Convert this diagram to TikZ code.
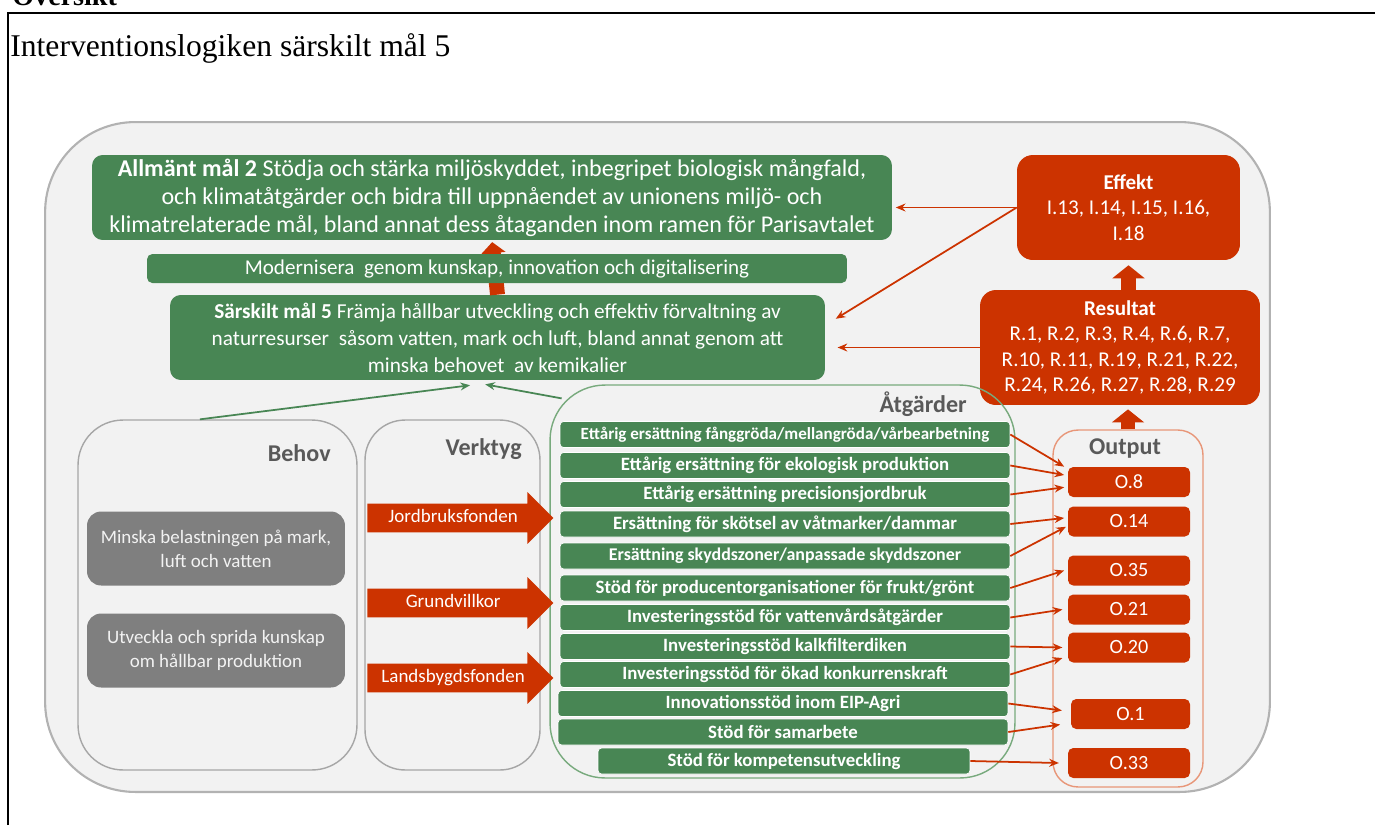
\documentclass[tikz,border=0pt]{standalone}
\usepackage{fontspec}
\setmainfont{Carlito}
\newfontfamily\titlefont{Liberation Serif}
\usetikzlibrary{arrows.meta, shapes.arrows}

\definecolor{sgreen}{RGB}{72,134,84}
\definecolor{sred}{RGB}{204,51,0}
\definecolor{sgray}{RGB}{127,127,127}
\definecolor{panelgray}{RGB}{242,242,242}
\definecolor{hdrgray}{RGB}{89,89,89}
\definecolor{lgreen}{RGB}{120,170,125}
\definecolor{lred}{RGB}{232,150,120}

\begin{document}
\begin{tikzpicture}[x=0.02cm, y=-0.02cm, >={Stealth[length=5.5pt,width=4.5pt]},
    goal/.style={fill=sgreen, text=white, rounded corners=6pt, align=center, inner sep=0pt},
    ind/.style={fill=sred, text=white, rounded corners=9pt, align=center, inner sep=0pt, font=\fontsize{12}{14.4}\selectfont},
    act/.style={fill=sgreen, draw=white, line width=0.4pt, text=white, rounded corners=2pt, inner sep=0pt, minimum width=9cm, minimum height=0.52cm, font=\bfseries\fontsize{10.7}{12}\selectfont},
    outbox/.style={fill=sred, text=white, rounded corners=3pt, inner sep=0pt, minimum width=2.44cm, minimum height=0.6cm, font=\fontsize{11.5}{13}\selectfont},
    need/.style={fill=sgray, text=panelgray, rounded corners=8pt, align=center, inner sep=0pt, minimum width=5.16cm, minimum height=1.48cm, font=\fontsize{10.8}{13.7}\selectfont},
    group/.style={draw=gray!70, line width=0.8pt, rounded corners=0.9cm, inner sep=0pt},
    hdr/.style={text=hdrgray, inner sep=0pt, font=\bfseries\fontsize{13.7}{16}\selectfont},
    fund/.style={single arrow, fill=sred, text=white, anchor=tail, single arrow head extend=6.5pt, minimum height=3.72cm, text height=7pt, text depth=2pt, inner ysep=3.5pt, inner xsep=2pt, font=\fontsize{10.8}{12}\selectfont},
    bigarrow/.style={color=sred, line width=8.5pt, -{Triangle[length=7.4pt,width=18pt]}},
    rlink/.style={->, color=sred, line width=1pt},
    glink/.style={->, color=sgreen, line width=1pt}]

\useasboundingbox (0,0) rectangle (1375,825);
\clip (0,0) rectangle (1375,825);

\node[anchor=base west, inner sep=0pt, font=\titlefont\bfseries\fontsize{16}{18}\selectfont] (oversikt) at (12,5) {Översikt};
\draw[line width=1.1pt] (8,825) -- (8,13) -- (1375,13);
\node[anchor=base west, inner sep=0pt, font=\titlefont\fontsize{18}{22}\selectfont] (title) at (10,56) {Interventionslogiken särskilt mål 5};

\node[draw=gray!60, line width=1.2pt, fill=panelgray, rounded corners=1.8cm, minimum width=24.5cm, minimum height=13.4cm] (panel) at (657.5,457) {};

\node[goal, minimum width=16cm, minimum height=1.7cm, font=\fontsize{13.7}{16}\selectfont] (allm) at (492,197.5) {\textbf{Allmänt mål 2} Stödja och stärka miljöskyddet, inbegripet biologisk mångfald,\\ och klimatåtgärder och bidra till uppnåendet av unionens miljö- och\\ klimatrelaterade mål, bland annat dess åtaganden inom ramen för Parisavtalet};
\node[goal, minimum width=13.1cm, minimum height=1.7cm, font=\fontsize{12.1}{15.4}\selectfont] (sars) at (497.5,337.5) {\textbf{Särskilt mål 5} Främja hållbar utveckling och effektiv förvaltning av\\ naturresurser~ såsom vatten, mark och luft, bland annat genom att\\ minska behovet~ av kemikalier};
\node[ind, minimum width=4.46cm, minimum height=2.1cm] (effekt) at (1128.5,207.5) {\textbf{Effekt}\\ I.13, I.14, I.15, I.16,\\ I.18};
\node[ind, minimum width=5.6cm, minimum height=2.3cm] (result) at (1120,347.5) {\textbf{Resultat}\\ R.1, R.2, R.3, R.4, R.6, R.7,\\ R.10, R.11, R.19, R.21, R.22,\\ R.24, R.26, R.27, R.28, R.29};

\path[bigarrow, -{Triangle[length=6.3pt,width=13.7pt]}] (sars.north) edge[shorten >=1pt] (allm.south);
\node[goal, rounded corners=3pt, minimum width=14cm, minimum height=0.58cm, font=\fontsize{12}{13}\selectfont] (modern) at (497,268.5) {Modernisera~ genom kunskap, innovation och digitalisering};

\node[group, minimum width=5.58cm, minimum height=7cm] (behov) at (217.5,595) {};
\node[group, rounded corners=0.8cm, minimum width=3.5cm, minimum height=7cm] (verktyg) at (452.5,595) {};
\node[group, draw=lgreen, rounded corners=1.1cm, minimum width=9.3cm, minimum height=7.86cm] (atg) at (782.5,581.5) {};
\node[group, draw=lred, rounded corners=0.5cm, minimum width=3cm, minimum height=7.14cm] (output) at (1128,608.5) {};

\node[hdr, anchor=east] (behovT) at (331,453) {Behov};
\node[hdr, anchor=east] (verktygT) at (522,449) {Verktyg};
\node[hdr, anchor=east] (atgT) at (967,404) {Åtgärder};
\node[hdr] (outputT) at (1125,448) {Output};

\node[need] (need1) at (216,548.5) {Minska belastningen på mark,\\ luft och vatten};
\node[need] (need2) at (216,650.5) {Utveckla och sprida kunskap\\ om hållbar produktion};

\node[fund] (jord) at (367,518) {Jordbruksfonden};
\node[fund] (grund) at (367,603) {Grundvillkor};
\node[fund] (lands) at (367,678) {Landsbygdsfonden};

\node[act, font=\bfseries\fontsize{9.7}{11}\selectfont] (a1) at (785,434.5) {Ettårig ersättning fånggröda/mellangröda/vårbearbetning};
\node[act] (a2) at (785,465.5) {Ettårig ersättning för ekologisk produktion};
\node[act] (a3) at (785,494.5) {Ettårig ersättning precisionsjordbruk};
\node[act] (a4) at (785,524) {Ersättning för skötsel av våtmarker/dammar};
\node[act, font=\bfseries\fontsize{10.2}{11}\selectfont] (a5) at (785,556) {Ersättning skyddszoner/anpassade skyddszoner};
\node[act] (a6) at (785,588) {Stöd för producentorganisationer för frukt/grönt};
\node[act] (a7) at (785,617.5) {Investeringsstöd för vattenvårdsåtgärder};
\node[act] (a8) at (785,646.5) {Investeringsstöd kalkfilterdiken};
\node[act] (a9) at (785,674.5) {Investeringsstöd för ökad konkurrenskraft};
\node[act] (a10) at (783,703.5) {Innovationsstöd inom EIP-Agri};
\node[act] (a11) at (783,732) {Stöd för samarbete};
\node[act, minimum width=7.44cm] (a12) at (784,761) {Stöd för kompetensutveckling};

\node[outbox] (o8) at (1129,482) {O.8};
\node[outbox] (o14) at (1129,521.5) {O.14};
\node[outbox] (o35) at (1129,570.5) {O.35};
\node[outbox] (o21) at (1129,609.5) {O.21};
\node[outbox] (o20) at (1129,647.5) {O.20};
\node[outbox, minimum width=2.38cm] (o1) at (1130.5,714) {O.1};
\node[outbox] (o33) at (1129,763) {O.33};

\path[bigarrow]
    (result.north -| effekt.south) edge[shorten >=2.8pt] (effekt.south)
    (output.north) edge[shorten >=2.3pt] (output.north |- result.south);

\path[rlink]
    (effekt.west) edge[shorten >=2pt] (allm.east |- effekt.west)
    (effekt.west) edge[shorten >=7pt] ([yshift=7pt]sars.east)
    (result.west) edge[shorten >=7pt] (sars.east |- result.west);

\path[glink]
    ([xshift=-10pt]behov.north) edge ([xshift=-15.6pt,yshift=-2.8pt]sars.south)
    ([xshift=7pt,yshift=-8pt]atg.north west) edge ([xshift=-7pt,yshift=-2.3pt]sars.south);

\path[rlink]
    (a1.east) edge ([xshift=-2pt]o8.north west)
    (a2.east) edge ([xshift=-2pt,yshift=4pt]o8.west)
    (a3.east) edge ([xshift=-2pt,yshift=-3pt]o8.west)
    (a4.east) edge ([xshift=-2pt,yshift=2pt]o14.west)
    (a5.east) edge ([xshift=-1pt,yshift=-3pt]o14.west)
    (a6.east) edge ([xshift=-2pt]o35.west)
    (a7.east) edge ([xshift=-3pt]o21.west)
    (a8.east) edge ([xshift=-3pt]o20.west)
    (a9.east) edge ([xshift=-3pt,yshift=-6pt]o20.west)
    (a10.east) edge ([xshift=-5pt,yshift=2pt]o1.west)
    (a11.east) edge ([xshift=-6pt,yshift=-6pt]o1.west)
    (a12.east) edge ([xshift=-5pt]o33.west);
\end{tikzpicture}
\end{document}
